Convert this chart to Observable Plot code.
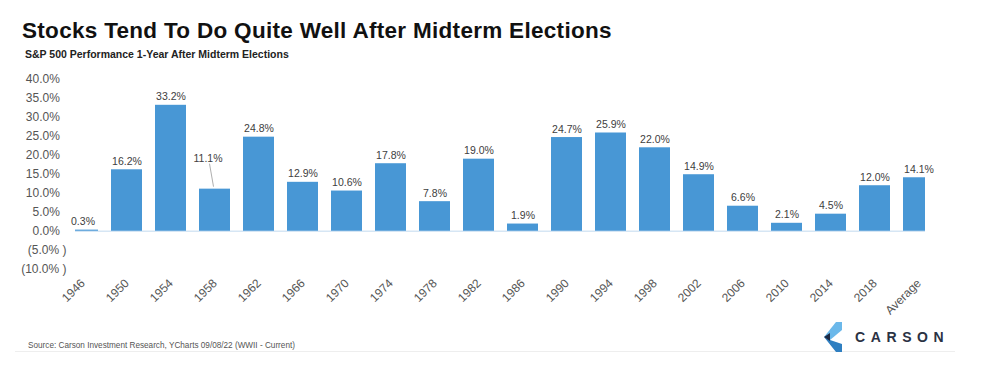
<!DOCTYPE html>
<html>
<head>
<meta charset="utf-8">
<script src="https://cdn.jsdelivr.net/npm/d3@7"></script>
<script src="https://cdn.jsdelivr.net/npm/@observablehq/plot@0.6"></script>
<style>
  html, body { margin: 0; padding: 0; background: #fff; }
  body { width: 984px; height: 378px; overflow: hidden; font-family: "Liberation Sans", Arial, sans-serif; }
  #header { position: relative; height: 64px; }
  #title { position: absolute; left: 22px; top: 18px; font-size: 22.5px; font-weight: bold; color: #111; white-space: nowrap; letter-spacing: 0.3px; }
  #subtitle { position: absolute; left: 25px; top: 48px; font-size: 10.5px; font-weight: bold; color: #222; white-space: nowrap; }
  #chart { height: 256px; }
  #footer { position: relative; height: 58px; }
  #source { position: absolute; left: 28px; top: 21px; font-size: 8.2px; color: #555; white-space: nowrap; }
  #logo { position: absolute; left: 818px; top: 0px; }
  #rule { position: absolute; left: 15px; top: 31px; width: 940px; height: 1px; background: #eee; }
</style>
</head>
<body>
<div id="header">
  <div id="title">Stocks Tend To Do Quite Well After Midterm Elections</div>
  <div id="subtitle">S&amp;P 500 Performance 1-Year After Midterm Elections</div>
</div>
<div id="chart"></div>
<div id="footer">
  <div id="source">Source: Carson Investment Research, YCharts 09/08/22 (WWII - Current)</div>
  <div id="rule"></div>
  <svg id="logo" width="150" height="34" viewBox="0 0 150 34">
    <polygon points="18,2 24,2 24,10 12,20 6,17" fill="#6bb8ea"/>
    <polygon points="6,17 12,20 24,24 24,32 18,32" fill="#2f7fc1"/>
    <polygon points="6,17 12,13 12,21" fill="#1d2a44"/>
    <text x="37" y="21.5" font-family="Liberation Sans, Arial, sans-serif" font-size="14" font-weight="bold" letter-spacing="5.6" fill="#2b3244">CARSON</text>
  </svg>
</div>
<script>
const categories = ["1946","1950","1954","1958","1962","1966","1970","1974","1978","1982","1986","1990","1994","1998","2002","2006","2010","2014","2018","Average"];
const values = [0.3, 16.2, 33.2, 11.1, 24.8, 12.9, 10.6, 17.8, 7.8, 19.0, 1.9, 24.7, 25.9, 22.0, 14.9, 6.6, 2.1, 4.5, 12.0, 14.1];
const yTicks = [-10, -5, 0, 5, 10, 15, 20, 25, 30, 35, 40];

const data = categories.map((c, i) => ({category: c, value: values[i]}));
const calloutCategory = "1958";
const pct = v => v.toFixed(1) + "%";
const yFormat = v => v < 0 ? "(" + (-v).toFixed(1) + "%\u00A0)" : v.toFixed(1) + "%\u00A0\u00A0";

const leader = (index, scales) => {
  const d = data.find(d => d.category === calloutCategory);
  const cx = scales.x(d.category) + scales.x.bandwidth() / 2;
  const cy = scales.y(d.value);
  const ns = "http://www.w3.org/2000/svg";
  const line = document.createElementNS(ns, "line");
  line.setAttribute("x1", cx - 1);
  line.setAttribute("y1", cy - 2);
  line.setAttribute("x2", cx - 5);
  line.setAttribute("y2", cy - 25);
  line.setAttribute("stroke", "#999");
  line.setAttribute("stroke-width", "0.8");
  return line;
};

const chart = Plot.plot({
  width: 984,
  height: 256,
  marginTop: 15,
  marginBottom: 51.3,
  marginLeft: 75,
  marginRight: 59,
  style: {fontFamily: "Liberation Sans, Arial, sans-serif", background: "#fff"},
  x: {domain: categories, range: [46.9, 953.3], padding: 0.3, label: null},
  y: {domain: [-10, 40], label: null},
  marks: [
    Plot.ruleY([0], {stroke: "#d6e6f4", strokeWidth: 1.5}),
    Plot.barY(data, {x: "category", y: "value", fill: "#4897d5", clip: true}),
    Plot.text(data.filter(d => d.category !== calloutCategory), {
      x: "category", y: "value", text: d => pct(d.value),
      lineAnchor: "bottom", dy: -5, fontSize: 10.5, fill: "#404040"
    }),
    Plot.text(data.filter(d => d.category === calloutCategory), {
      x: "category", y: "value", text: d => pct(d.value),
      lineAnchor: "bottom", dy: -27, dx: -7, fontSize: 10.5, fill: "#404040"
    }),
    leader,
    Plot.axisY({ticks: yTicks, tickFormat: yFormat, tickSize: 0, tickPadding: 9, fontSize: 12, color: "#555"}),
    Plot.axisX({tickRotate: -45, tickSize: 0, tickPadding: 12, fontSize: 12, color: "#555"})
  ]
});
document.getElementById("chart").appendChild(chart);
</script>
</body>
</html>
